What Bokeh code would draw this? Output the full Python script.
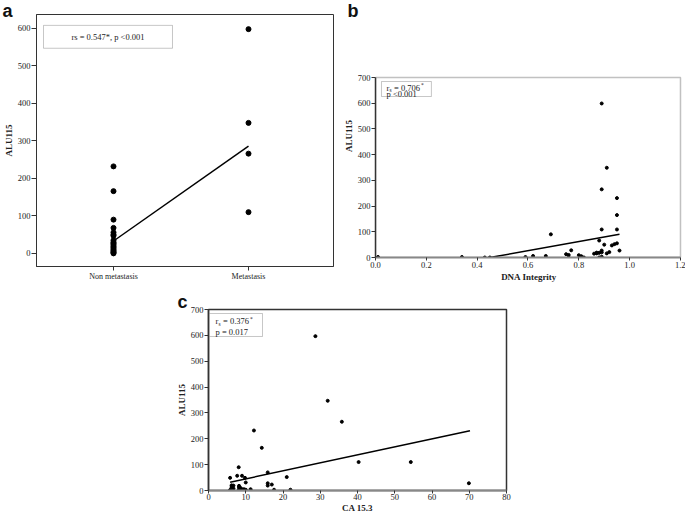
from bokeh.plotting import figure
from bokeh.layouts import column, row
from bokeh.models import (Range1d, FixedTicker, Label, BoxAnnotation, Spacer, Title,
                          PrintfTickFormatter)
from bokeh.embed import file_html
from bokeh.resources import INLINE

SERIF = "Liberation Serif"
SANS = "Liberation Sans"

# ---------------- data ----------------
# panel a
a_categories = ["Non metastasis", "Metastasis"]
a_non_meta = [232, 166, 90, 68, 56, 50, 47, 35, 30, 27, 24, 20, 17, 14, 10, 7, 4, 2, 0]
a_meta = [598, 348, 266, 110]
a_fit_y = [33, 286]
a_yticks = [0, 100, 200, 300, 400, 500, 600]
a_stat = "rs = 0.547*, p <0.001"

# panel b
b_x = [0.01, 0.34, 0.43, 0.45, 0.59, 0.62, 0.67, 0.69, 0.75, 0.76, 0.76, 0.77,
       0.80, 0.81, 0.82, 0.86, 0.87, 0.87, 0.88, 0.88, 0.88, 0.89, 0.89, 0.89,
       0.89, 0.89, 0.89, 0.90, 0.91, 0.91, 0.92, 0.93, 0.94, 0.95, 0.95, 0.95,
       0.95, 0.96]
b_y = [2, 2, 0, 0, 2, 6, 6, 90, 13, 10, 0, 28,
       9, 5, 0, 15, 16, 19, 18, 66, 0, 599, 265, 109,
       27, 20, 3, 50, 349, 16, 21, 47, 52, 231, 165, 109,
       55, 27]
b_fit_x = [0.45, 0.96]
b_fit_y = [0, 90]
b_xticks = [0.0, 0.2, 0.4, 0.6, 0.8, 1.0, 1.2]
b_rs = "0.706"
b_p = "p <0.001"

# panel c
c_x = [28.7, 32.0, 35.8, 12.2, 14.3, 40.3, 54.3, 69.9, 8.1, 5.8, 7.7, 9.0,
       9.8, 15.9, 21.0, 10.0, 15.9, 15.9, 17.0, 17.6, 22.0, 5.8, 6.2, 6.7,
       6.2, 8.2, 8.2, 8.2, 8.7, 9.5, 10.0, 11.3, 6.7]
c_y = [597, 347, 266, 232, 165, 110, 110, 28, 90, 49, 57, 57,
       49, 70, 52, 31, 28, 19, 23, 3, 3, 2, 20, 19,
       13, 18, 13, 5, 9, 5, 3, 5, 8]
c_fit_x = [5.8, 70.2]
c_fit_y = [32, 231]
c_xticks = [0, 10, 20, 30, 40, 50, 60, 70, 80]
c_rs = "0.376"
c_p = "p = 0.017"

yticks_700 = [0, 100, 200, 300, 400, 500, 600, 700]


def base_fig(fw, fh, xr, yr, bl, br, bt, bb):
    p = figure(frame_width=fw, frame_height=fh, x_range=xr, y_range=yr,
               min_border_left=bl, min_border_right=br,
               min_border_top=bt, min_border_bottom=bb,
               output_backend="svg", toolbar_location=None)
    p.grid.visible = False
    p.background_fill_color = "white"
    p.border_fill_color = "white"
    for ax in (p.xaxis[0], p.yaxis[0]):
        ax.major_label_text_font = SERIF
        ax.major_label_text_font_size = "8.5px"
        ax.major_label_text_color = "#222222"
        ax.axis_label_text_font = SERIF
        ax.axis_label_text_font_style = "bold"
        ax.axis_label_text_font_size = "9px"
        ax.axis_label_text_color = "#222222"
        ax.minor_tick_line_color = None
        ax.major_tick_in = 0
        ax.major_tick_out = 4
        ax.major_label_standoff = 1
        ax.axis_label_standoff = 1
        ax.major_tick_line_color = "#333333"
        ax.axis_line_color = "#333333"
    return p


def letter(p, txt, offset, standoff):
    p.add_layout(Title(text=txt, align="left", offset=offset, standoff=standoff,
                       vertical_align="bottom", text_font=SANS,
                       text_font_style="bold", text_font_size="18px",
                       text_color="#111111"), "above")


def rs_text(p, x, y, val):
    fs = "8.5px"
    common = dict(text_font=SERIF, text_color="#222222", text_baseline="middle",
                  text_align="left")
    p.add_layout(Label(x=x, y=y, text="r", text_font_size=fs, **common))
    p.add_layout(Label(x=x, y=y, x_offset=3, y_offset=-2.5, text="s",
                       text_font_size="5.5px", **common))
    p.add_layout(Label(x=x, y=y, x_offset=7.5, text="= " + val,
                       text_font_size=fs, **common))
    p.add_layout(Label(x=x, y=y, x_offset=34.5, y_offset=2.5, text="*",
                       text_font_size="5.5px", **common))


def plain_text(p, x, y, txt, align="left"):
    p.add_layout(Label(x=x, y=y, text=txt, text_font=SERIF,
                       text_font_size="8.5px", text_color="#222222",
                       text_baseline="middle", text_align=align))


ROW1_TOP = 14

# ---------------- panel a ----------------
pa = base_fig(297, 252, Range1d(0.4296, 2.6296), Range1d(-35, 637),
              36, 6, ROW1_TOP, 24)
pa.outline_line_color = "#333333"
pa.outline_line_width = 1
pa.yaxis.ticker = FixedTicker(ticks=a_yticks)
pa.xaxis.ticker = FixedTicker(ticks=[1, 2])
pa.xaxis.major_label_overrides = {1: a_categories[0], 2: a_categories[1]}
pa.xaxis.major_label_text_font_size = "8px"
pa.yaxis.axis_label = "ALU115"
pa.yaxis.major_tick_out = 5
pa.scatter([1] * len(a_non_meta), a_non_meta, size=5, color="black")
pa.scatter([2] * len(a_meta), a_meta, size=5, color="black")
pa.line([1, 2], a_fit_y, line_color="black", line_width=1.5)
pa.add_layout(BoxAnnotation(left=0.4815, right=1.437, top=608, bottom=547,
                            fill_color="white", fill_alpha=1,
                            line_color="#444444", line_width=1, level="annotation"))
plain_text(pa, 0.959, 577, a_stat, align="center")
letter(pa, "a", -34, -12)

# ---------------- panel b ----------------
# frame starts at the same height as panel a; the box is drawn from 0 to 700
pb = base_fig(307, 243, Range1d(0, 1.2079), Range1d(0, 945),
              36, 3, ROW1_TOP, 33)
pb.outline_line_color = None
pb.yaxis.ticker = FixedTicker(ticks=yticks_700)
pb.yaxis.bounds = (0, 700)
pb.xaxis.ticker = FixedTicker(ticks=b_xticks)
pb.xaxis.formatter = PrintfTickFormatter(format="%.1f")
pb.xaxis.bounds = (0, 1.2)
pb.xaxis.axis_label = "DNA Integrity"
pb.yaxis.axis_label = "ALU115"
pb.xaxis.axis_line_color = "#888888"
pb.xaxis.axis_line_width = 2
pb.yaxis.axis_line_width = 1.5
pb.xaxis.major_tick_out = 3
pb.xaxis.major_label_standoff = 1
pb.xaxis.axis_label_standoff = 1
pb.add_layout(BoxAnnotation(left=0, right=1.2, bottom=0, top=700,
                            fill_alpha=0, line_color="#333333", line_width=1.5,
                            level="underlay"))
pb.scatter(b_x, b_y, size=3, color="black")
pb.line(b_fit_x, b_fit_y, line_color="black", line_width=1.5)
pb.add_layout(BoxAnnotation(left=0.0236, right=0.220, top=684.4, bottom=626.1,
                            fill_color="white", fill_alpha=1,
                            line_color="#444444", line_width=1, level="annotation"))
rs_text(pb, 0.0433, 661, b_rs)
plain_text(pb, 0.0433, 634, b_p)
letter(pb, "b", -28, -12)

# ---------------- panel c ----------------
pc = base_fig(298, 181, Range1d(0, 80), Range1d(0, 700), 38, 8, 19, 24)
pc.outline_line_color = "#333333"
pc.outline_line_width = 1.5
pc.yaxis.ticker = FixedTicker(ticks=yticks_700)
pc.xaxis.ticker = FixedTicker(ticks=c_xticks)
pc.xaxis.axis_label = "CA 15.3"
pc.yaxis.axis_label = "ALU115"
pc.xaxis.axis_line_color = "#888888"
pc.xaxis.axis_line_width = 2
pc.yaxis.axis_line_width = 1.5
pc.xaxis.major_tick_out = 3
pc.xaxis.major_label_standoff = 0
pc.xaxis.axis_label_standoff = 0
pc.scatter(c_x, c_y, size=3, color="black")
pc.line(c_fit_x, c_fit_y, line_color="black", line_width=1.5)
pc.add_layout(BoxAnnotation(left=0.27, right=14.5, top=684.5, bottom=595.6,
                            fill_color="white", fill_alpha=1,
                            line_color="#444444", line_width=1, level="annotation"))
rs_text(pc, 1.88, 653.6, c_rs)
plain_text(pc, 1.88, 614.9, c_p)
letter(pc, "c", -31, -4)

layout = column(row(pa, pb), row(Spacer(width=170, height=10), pc))

open("out.html", "w").write(file_html(layout, INLINE))
